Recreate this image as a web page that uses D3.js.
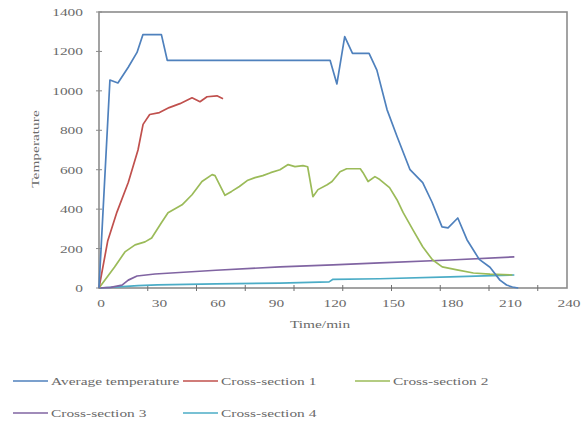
<!DOCTYPE html>
<html><head><meta charset="utf-8">
<script src="https://cdn.jsdelivr.net/npm/d3@7"></script>
<style>body{margin:0;background:#fff}svg{display:block}</style>
</head><body>
<svg id="c" width="586" height="423"></svg>
<script>
const xTickLabels = [0,30,60,90,120,150,180,210,240];
const xTickMarks = [25,50,75,100,125,150,175,200,225];
const yTickLabels = [0,200,400,600,800,1000,1200,1400];

const seriesNames = ["Average temperature","Cross-section 1","Cross-section 2","Cross-section 3","Cross-section 4"];
const seriesColors = ["#4F81BD","#C0504D","#9BBB59","#8064A2","#4BACC6"];

const tAvg = [0,5.6,9.7,15,19.5,22.5,32,35,60,90,118.5,122,126,130,138.5,142.5,147.7,152.8,159.5,166,170.8,175.9,179,184,188.7,195,200.5,205.6,209,212,215];
const vAvg = [0,1055,1040,1120,1195,1285,1285,1155,1155,1155,1155,1035,1275,1190,1190,1105,905,770,600,535,435,310,305,355,245,145,105,40,15,5,0];

const tCs1 = [0,4.5,9.2,15,20,22.6,26,31,36,41.5,47.7,51.8,55.4,60.5,63.6];
const vCs1 = [0,240,385,535,700,830,880,890,915,935,965,945,970,975,960];

const tCs2 = [0,8,13.3,18.5,23.6,27,32,35.4,42.6,47.7,52.8,58,59.5,64.6,68,72,76,80,84,88,92.8,97,100.5,104.6,107,109.7,112.3,117,119.5,123.6,127,134,135.4,138,141.5,144,149,152.8,156,161,166,171,176,183.6,192,200.5,212];
const vCs2 = [0,107,183,219,234,254,331,382,422,473,540,575,570,470,490,515,545,560,570,585,600,626,616,621,615,463,499,524,540,590,605,605,585,540,565,550,509,448,382,295,209,143,107,92,76,70,66];

const tCs3 = [0,6,11.8,15,19.5,28.7,60,92.8,120,144,180,213];
const vCs3 = [0,3,15,40,61,71,90,107,117,127,142,158];

const tCs4 = [0,10,20,30,60,92.8,118,120,144,180,213];
const vCs4 = [0,6,12,16,21,25,31,44,47,56,66];

const seriesT = [tAvg,tCs1,tCs2,tCs3,tCs4];
const seriesV = [vAvg,vCs1,vCs2,vCs3,vCs4];

const svg = d3.select("#c");
const L=99,R=567,T=12,B=288;
const x = d3.scaleLinear().domain([0,240]).range([L,R]);
const y = d3.scaleLinear().domain([0,1400]).range([B,T]);
const FONT = "Liberation Serif, Times New Roman, serif";
const TXT = "#6a6a6a";
const SX = 1.4;

function stext(px, py, str, anchor, rot){
  return svg.append("text")
    .attr("transform", `translate(${px},${py})` + (rot?` rotate(${rot})`:"") + ` scale(${SX},1)`)
    .attr("text-anchor", anchor||"start")
    .attr("font-family", FONT).attr("font-size", 11).attr("fill", TXT)
    .text(str);
}

svg.append("rect").attr("x",L).attr("y",T).attr("width",R-L).attr("height",B-T)
  .attr("fill","none").attr("stroke","#8c8c8c").attr("stroke-width",1.6);

yTickLabels.forEach(v=>{
  svg.append("line").attr("x1",L-3).attr("x2",L+3).attr("y1",y(v)).attr("y2",y(v))
    .attr("stroke","#8c8c8c").attr("stroke-width",1);
  stext(L-16, y(v)+4, String(v), "end");
});
xTickMarks.forEach(v=>{
  svg.append("line").attr("x1",x(v)).attr("x2",x(v)).attr("y1",B-3).attr("y2",B+3)
    .attr("stroke","#6f6f6f").attr("stroke-width",1);
});
xTickLabels.forEach(v=>{
  stext(x(v)+2, 307, String(v), "middle");
});

stext(320, 328, "Time/min", "middle");
stext(39, 149, "Temperature", "middle", -90);

const line = d3.line().x(d=>x(d[0])).y(d=>y(d[1]));
[4,3,2,1,0].forEach(i=>{
  const pts = seriesT[i].map((t,j)=>[t, seriesV[i][j]]);
  svg.append("path").attr("d", line(pts)).attr("fill","none")
    .attr("stroke", seriesColors[i]).attr("stroke-width", 1.7).attr("stroke-linejoin","round");
});

const legPos = [[13,381],[183,381],[355,381],[13,413],[183,413]];
seriesNames.forEach((n,i)=>{
  const [lx,ly] = legPos[i];
  svg.append("line").attr("x1",lx).attr("x2",lx+35).attr("y1",ly).attr("y2",ly)
    .attr("stroke",seriesColors[i]).attr("stroke-width",1.7);
  stext(lx+38, ly+4, n, "start");
});
</script>
</body></html>
